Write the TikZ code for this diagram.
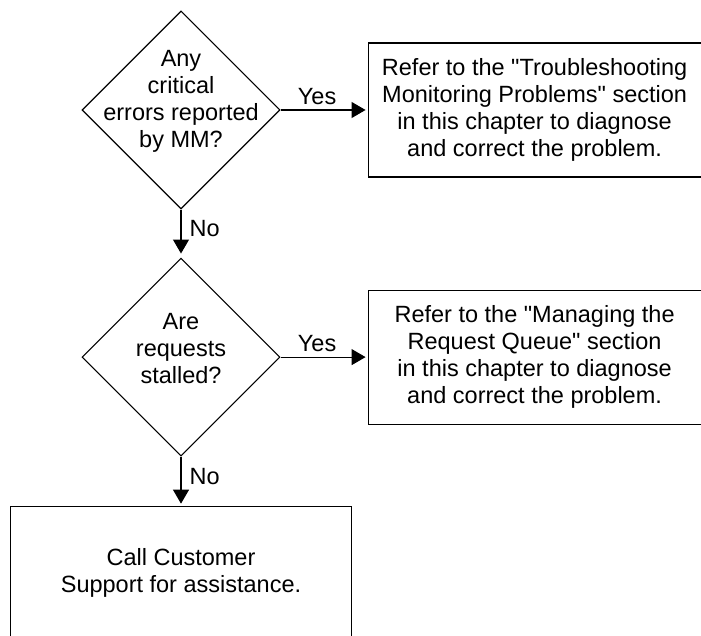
\documentclass[tikz,border=0pt]{standalone}
\usepackage{fontspec}
\setmainfont{Liberation Sans}
\usetikzlibrary{shapes.geometric,arrows.meta,positioning}

\begin{document}
\begin{tikzpicture}[x=1pt,y=1pt,>={Triangle[length=14pt,width=16pt]},
  line width=1.1pt,
  every node/.style={font=\fontsize{23.5}{27}\selectfont},
  decision/.style={draw,diamond,aspect=1,inner sep=0pt,
    minimum width=198pt,minimum height=198pt},
  action/.style={draw,rectangle,align=center,
    minimum width=333pt,minimum height=134pt},
  answer/.style={inner sep=2pt}]
  % Frame
  \useasboundingbox (0,0) rectangle (701,635);
  \clip (0,0) rectangle (701,635);
  %
  % Questions
  \node[decision,label={[align=center,yshift=9pt]center:Any\\critical\\errors reported\\by MM?}]
    (errors) at (181,525) {};
  \node[decision,below=48pt of errors,
    label={[align=center,yshift=9pt]center:Are\\requests\\stalled?}] (stalled) {};
  %
  % Actions
  \node[action,right=87pt of errors] (troubleshoot)
    {Refer to the \textquotedbl Troubleshooting\\Monitoring Problems\textquotedbl{} section\\in this chapter to diagnose\\and correct the problem.};
  \node[action,right=87pt of stalled] (queue)
    {Refer to the \textquotedbl Managing the\\Request Queue\textquotedbl{} section\\in this chapter to diagnose\\and correct the problem.};
  \node[action,minimum width=341pt,below=49pt of stalled] (support)
    {Call Customer\\Support for assistance.};
  %
  % Arrows
  \draw[->,shorten >=2pt] (errors) -- node[answer,pos=0.42,above=3pt] {Yes} (troubleshoot);
  \draw[->,shorten >=2pt] (stalled) -- node[answer,pos=0.42,above=3pt] {Yes} (queue);
  \draw[->,shorten >=4pt] (errors) -- node[answer,pos=0.4,right=6pt] {No} (stalled);
  \draw[->,shorten >=2pt] (stalled) -- node[answer,pos=0.4,right=6pt] {No} (support);
  %
\end{tikzpicture}
\end{document}
